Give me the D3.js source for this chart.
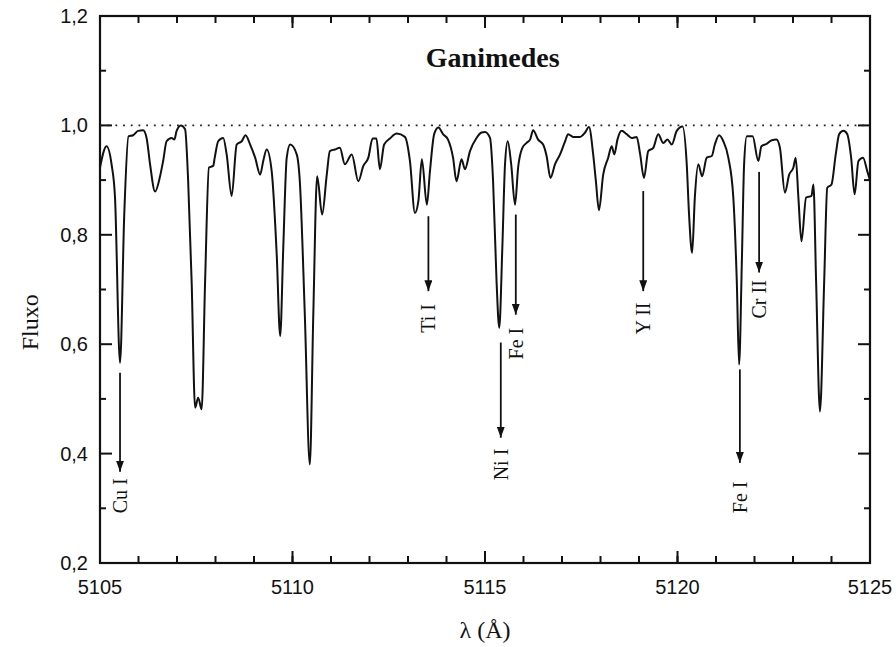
<!DOCTYPE html>
<html>
<head>
<meta charset="utf-8">
<script src="https://cdn.jsdelivr.net/npm/d3@7"></script>
<style>
    body { margin: 0; background: #fff; }
    svg { display: block; }
    .tick-label { font-family: "Liberation Sans", Arial, sans-serif; font-size: 20px; fill: #111; }
    .serif { font-family: "Liberation Serif", "Times New Roman", serif; fill: #111; }
</style>
</head>
<body>
<div id="chart"><svg width="896" height="647"></svg></div>
<script>
// spectrum (wavelength in angstrom, normalised flux)
const wavelength = [
    5105.00, 5105.17, 5105.30, 5105.39, 5105.52, 5105.63, 5105.74, 5105.86, 5105.99, 5106.12,
    5106.21, 5106.30, 5106.43, 5106.56, 5106.64, 5106.73, 5106.86, 5106.93, 5106.99, 5107.10,
    5107.21, 5107.29, 5107.38, 5107.47, 5107.55, 5107.64, 5107.73, 5107.83, 5107.94, 5107.98,
    5108.07, 5108.20, 5108.29, 5108.42, 5108.55, 5108.68, 5108.78, 5108.90, 5109.03, 5109.16,
    5109.24, 5109.33, 5109.46, 5109.59, 5109.68, 5109.76, 5109.85, 5109.94, 5110.11, 5110.19,
    5110.32, 5110.45, 5110.54, 5110.64, 5110.77, 5110.89, 5110.97, 5111.10, 5111.23, 5111.36,
    5111.54, 5111.71, 5111.84, 5111.97, 5112.08, 5112.18, 5112.27, 5112.38, 5112.53, 5112.71,
    5112.92, 5113.05, 5113.18, 5113.27, 5113.36, 5113.49, 5113.57, 5113.68, 5113.79, 5113.91,
    5114.04, 5114.17, 5114.26, 5114.39, 5114.48, 5114.61, 5114.78, 5114.91, 5115.00, 5115.13,
    5115.21, 5115.30, 5115.37, 5115.45, 5115.52, 5115.59, 5115.68, 5115.78, 5115.86, 5115.97,
    5116.08, 5116.17, 5116.25, 5116.38, 5116.51, 5116.60, 5116.70, 5116.82, 5116.95, 5117.08,
    5117.16, 5117.29, 5117.47, 5117.60, 5117.70, 5117.81, 5117.88, 5117.96, 5118.07, 5118.20,
    5118.29, 5118.36, 5118.44, 5118.55, 5118.68, 5118.81, 5118.94, 5119.03, 5119.13, 5119.24,
    5119.37, 5119.50, 5119.63, 5119.74, 5119.85, 5119.98, 5120.13, 5120.24, 5120.30, 5120.38,
    5120.45, 5120.54, 5120.64, 5120.76, 5120.89, 5120.97, 5121.08, 5121.19, 5121.32, 5121.45,
    5121.54, 5121.60, 5121.67, 5121.73, 5121.80, 5121.95, 5122.10, 5122.18, 5122.31, 5122.45,
    5122.57, 5122.66, 5122.79, 5122.90, 5123.01, 5123.07, 5123.14, 5123.22, 5123.34, 5123.48,
    5123.53, 5123.60, 5123.70, 5123.81, 5123.89, 5124.00, 5124.11, 5124.20, 5124.31, 5124.41,
    5124.51, 5124.60, 5124.70, 5124.82, 5124.93, 5125.00
];
const flux = [
    0.923, 0.962, 0.929, 0.868, 0.566, 0.837, 0.980, 0.982, 0.990, 0.991,
    0.977, 0.929, 0.879, 0.907, 0.935, 0.971, 0.977, 0.974, 0.990, 1.000,
    0.993, 0.898, 0.715, 0.484, 0.502, 0.481, 0.715, 0.923, 0.926, 0.941,
    0.971, 0.977, 0.947, 0.871, 0.965, 0.971, 0.982, 0.965, 0.941, 0.910,
    0.935, 0.956, 0.916, 0.764, 0.615, 0.776, 0.941, 0.965, 0.947, 0.898,
    0.654, 0.380, 0.654, 0.907, 0.837, 0.910, 0.953, 0.956, 0.959, 0.929,
    0.947, 0.898, 0.926, 0.941, 0.976, 0.976, 0.920, 0.965, 0.976, 0.985,
    0.979, 0.935, 0.840, 0.862, 0.938, 0.855, 0.916, 0.984, 0.996, 0.984,
    0.974, 0.941, 0.898, 0.938, 0.920, 0.953, 0.977, 0.987, 0.988, 0.977,
    0.898, 0.715, 0.630, 0.776, 0.929, 0.971, 0.929, 0.855, 0.923, 0.959,
    0.968, 0.974, 0.991, 0.974, 0.965, 0.944, 0.904, 0.929, 0.947, 0.971,
    0.984, 0.979, 0.979, 0.987, 0.997, 0.947, 0.898, 0.845, 0.910, 0.941,
    0.962, 0.947, 0.974, 0.990, 0.984, 0.977, 0.979, 0.947, 0.904, 0.953,
    0.959, 0.984, 0.968, 0.974, 0.965, 0.990, 0.998, 0.929, 0.837, 0.767,
    0.868, 0.929, 0.907, 0.941, 0.944, 0.965, 0.982, 0.971, 0.941, 0.868,
    0.715, 0.563, 0.746, 0.929, 0.980, 0.980, 0.935, 0.962, 0.966, 0.973,
    0.974, 0.959, 0.877, 0.910, 0.923, 0.941, 0.868, 0.788, 0.868, 0.871,
    0.892, 0.715, 0.477, 0.715, 0.886, 0.892, 0.947, 0.984, 0.990, 0.984,
    0.941, 0.874, 0.935, 0.941, 0.916, 0.900
];

// identified lines: label, wavelength, arrow start / tip flux, label centre flux
const lineLabels = ['Cu I', 'Ti I', 'Ni I', 'Fe I', 'Y II', 'Cr II', 'Fe I'];
const lineWave   = [5105.52, 5113.53, 5115.41, 5115.80, 5119.11, 5122.12, 5121.62];
const arrowFrom  = [0.548, 0.834, 0.603, 0.837, 0.880, 0.915, 0.554];
const arrowTo    = [0.367, 0.697, 0.429, 0.654, 0.697, 0.731, 0.383];
const labelAt    = [0.323, 0.647, 0.380, 0.601, 0.647, 0.682, 0.320];

// axis ticks
const xTicks = [5105, 5110, 5115, 5120, 5125];
const yTicks = [0.2, 0.4, 0.6, 0.8, 1.0, 1.2];
const xMinor = d3.range(5106, 5125, 1);
const yMinor = [0.3, 0.5, 0.7, 0.9, 1.1];
const title = 'Ganimedes';

const svg = d3.select('#chart').select('svg');
const margin = {t:16, r:26, b:84, l:100};
const width = 896, height = 647;
const w = width - (margin.l + margin.r);
const h = height - (margin.t + margin.b);

const scaleX = d3.scaleLinear().domain([5105, 5125]).range([0, w]);
const scaleY = d3.scaleLinear().domain([0.2, 1.2]).range([h, 0]);

const plot = svg.append('g')
    .attr('transform', `translate(${margin.l},${margin.t})`);

const defs = svg.append('defs');
defs.append('clipPath')
    .attr('id', 'clip')
    .append('rect')
    .attr('width', w)
    .attr('height', h);

// arrow head marker
defs.append('marker')
    .attr('id', 'head')
    .attr('viewBox', '0 0 10 10')
    .attr('refX', 10).attr('refY', 5)
    .attr('markerWidth', 11).attr('markerHeight', 8)
    .attr('markerUnits', 'userSpaceOnUse')
    .attr('orient', 'auto')
    .attr('preserveAspectRatio', 'none')
    .append('path')
    .attr('d', 'M0,0L10,5L0,10Z')
    .style('fill', '#111');

// frame
plot.append('rect')
    .attr('width', w)
    .attr('height', h)
    .style('fill', 'none')
    .style('stroke', '#111')
    .style('stroke-width', 2.2);

// inward ticks on all four sides
const xTickData = xTicks.map(v => ({v:v, len:12})).concat(xMinor.map(v => ({v:v, len:7})));
const yTickData = yTicks.map(v => ({v:v, len:12})).concat(yMinor.map(v => ({v:v, len:6})));

plot.append('g').selectAll('line')
    .data(xTickData)
    .enter().append('line')
    .attr('x1', d => scaleX(d.v)).attr('x2', d => scaleX(d.v))
    .attr('y1', h).attr('y2', d => h - d.len)
    .style('stroke', '#111').style('stroke-width', 2);

plot.append('g').selectAll('line')
    .data(xTickData)
    .enter().append('line')
    .attr('x1', d => scaleX(d.v)).attr('x2', d => scaleX(d.v))
    .attr('y1', 0).attr('y2', d => d.len)
    .style('stroke', '#111').style('stroke-width', 2);

plot.append('g').selectAll('line')
    .data(yTickData)
    .enter().append('line')
    .attr('y1', d => scaleY(d.v)).attr('y2', d => scaleY(d.v))
    .attr('x1', 0).attr('x2', d => d.len)
    .style('stroke', '#111').style('stroke-width', 2);

plot.append('g').selectAll('line')
    .data(yTickData)
    .enter().append('line')
    .attr('y1', d => scaleY(d.v)).attr('y2', d => scaleY(d.v))
    .attr('x1', w).attr('x2', d => w - d.len)
    .style('stroke', '#111').style('stroke-width', 2);

// tick labels
plot.selectAll('.x-label')
    .data(xTicks)
    .enter().append('text')
    .attr('class', 'tick-label')
    .attr('x', d => scaleX(d))
    .attr('y', h + 31)
    .attr('text-anchor', 'middle')
    .text(d => d);

plot.selectAll('.y-label')
    .data(yTicks)
    .enter().append('text')
    .attr('class', 'tick-label')
    .attr('x', -12)
    .attr('y', d => scaleY(d) + 7)
    .attr('text-anchor', 'end')
    .text(d => d3.format('.1f')(d).replace('.', ','));

// continuum level
plot.append('line')
    .attr('x1', 0).attr('x2', w)
    .attr('y1', scaleY(1.0)).attr('y2', scaleY(1.0))
    .style('stroke', '#222')
    .style('stroke-width', 1.8)
    .style('stroke-dasharray', '1.8,5.9');

// spectrum
const line = d3.line()
    .x(d => scaleX(d[0]))
    .y(d => scaleY(d[1]))
    .curve(d3.curveMonotoneX);

plot.append('path')
    .datum(wavelength.map((d, i) => [d, flux[i]]))
    .attr('clip-path', 'url(#clip)')
    .attr('d', line)
    .style('fill', 'none')
    .style('stroke', '#111')
    .style('stroke-width', 2)
    .style('stroke-linejoin', 'round');

// line identifications
lineLabels.forEach((lab, i) => {
    const x = scaleX(lineWave[i]);
    plot.append('line')
        .attr('x1', x).attr('x2', x)
        .attr('y1', scaleY(arrowFrom[i]))
        .attr('y2', scaleY(arrowTo[i]))
        .attr('marker-end', 'url(#head)')
        .style('stroke', '#111')
        .style('stroke-width', 1.8);
    plot.append('text')
        .attr('class', 'serif')
        .attr('transform', `translate(${x + 7},${scaleY(labelAt[i])}) rotate(-90)`)
        .attr('text-anchor', 'middle')
        .style('font-size', '20px')
        .text(lab);
});

// title
plot.append('text')
    .attr('class', 'serif')
    .attr('x', scaleX(5115.2))
    .attr('y', 51)
    .attr('text-anchor', 'middle')
    .style('font-size', '28px')
    .style('font-weight', 'bold')
    .text(title);

// axis titles
svg.append('text')
    .attr('class', 'serif')
    .attr('transform', `translate(38,${margin.t + scaleY(0.64)}) rotate(-90)`)
    .attr('text-anchor', 'middle')
    .style('font-size', '24px')
    .text('Fluxo');

svg.append('text')
    .attr('class', 'serif')
    .attr('x', margin.l + scaleX(5115.0))
    .attr('y', 638)
    .attr('text-anchor', 'middle')
    .style('font-size', '24px')
    .text('λ (Å)');
</script>
</body>
</html>
